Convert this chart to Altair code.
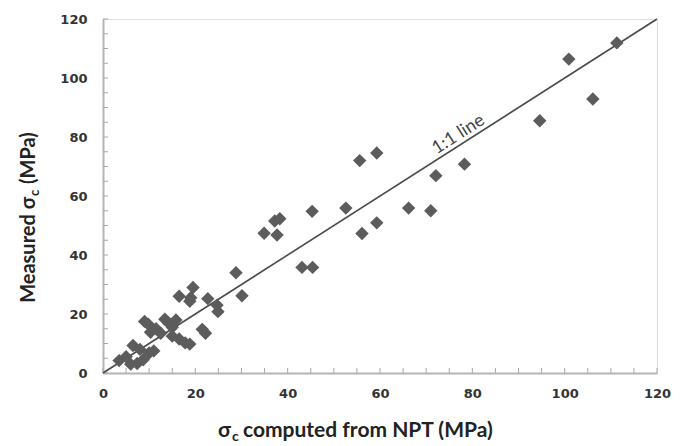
import altair as alt
import pandas as pd

# Data
npt = [3.5, 5.0, 6.0, 7.4, 8.7, 6.5, 8.0, 10.0, 11.0, 9.0, 9.8, 10.3, 11.5, 12.5,
       13.4, 14.2, 15.0, 15.8, 15.0, 16.5, 17.8, 18.8, 16.5, 19.0, 19.5, 18.8,
       21.5, 22.2, 22.7, 24.7, 24.9, 28.8, 30.1,
       34.9, 37.2, 38.3, 37.7, 43.1, 45.4, 45.3, 52.6, 55.6, 56.1, 59.3, 59.3,
       66.2, 71.0, 72.1, 78.3, 94.6, 100.9, 106.1, 111.3]
measured = [4.2, 5.5, 3.0, 3.2, 4.5, 9.3, 8.0, 6.8, 7.5, 17.5, 16.5, 13.8, 15.0, 13.5,
            18.2, 17.0, 15.5, 18.0, 12.5, 11.5, 10.2, 9.8, 26.0, 25.5, 29.0, 24.3,
            14.8, 13.5, 25.2, 23.0, 20.8, 34.0, 26.2,
            47.4, 51.5, 52.3, 46.8, 35.8, 35.8, 54.8, 55.9, 72.0, 47.3, 74.6, 50.9,
            55.9, 55.0, 66.9, 70.8, 85.5, 106.4, 92.9, 111.9]
line_x = [0, 120]
line_y = [0, 120]
label_text = ["1:1 line"]
label_x = [77.0]
label_y = [80.8]
major_ticks = [0, 20, 40, 60, 80, 100, 120]
minor_ticks = list(range(0, 121, 5))

W, H = 554, 354
DOM = [0, 120]

pts = pd.DataFrame({"x": npt, "y": measured})
ln = pd.DataFrame({"x": line_x, "y": line_y})
lab = pd.DataFrame({"x": label_x, "y": label_y, "t": label_text})
tk = pd.DataFrame({"v": minor_ticks})
one = pd.DataFrame({"a": [0]})

xs = alt.Scale(domain=DOM, nice=False)
ys = alt.Scale(domain=DOM, nice=False)

xaxis = alt.Axis(values=major_ticks, ticks=False, grid=False, title=None,
                 labelFont="DejaVu Sans", labelFontWeight="bold", labelFontSize=13,
                 labelColor="#333333", labelPadding=14, labelFlush=False,
                 domainColor="#b5b5b5", domainWidth=2)
yaxis = alt.Axis(values=major_ticks, ticks=False, grid=False, title=None,
                 labelFont="DejaVu Sans", labelFontWeight="bold", labelFontSize=13,
                 labelColor="#333333", labelPadding=16, labelFlush=False,
                 domainColor="#b5b5b5", domainWidth=2)

points = alt.Chart(pts).mark_point(shape="diamond", filled=True, size=180,
                                   color="#5c5c5c", opacity=1).encode(
    x=alt.X("x:Q", scale=xs, axis=xaxis),
    y=alt.Y("y:Q", scale=ys, axis=yaxis),
)

line = alt.Chart(ln).mark_line(color="#4a4a4a", strokeWidth=1.6).encode(
    x=alt.X("x:Q", scale=xs), y=alt.Y("y:Q", scale=ys))

label = alt.Chart(lab).mark_text(font="Lato", fontSize=18, color="#444444",
                                 angle=327.4, align="center", baseline="middle").encode(
    x=alt.X("x:Q", scale=xs), y=alt.Y("y:Q", scale=ys), text="t:N")

ytk = alt.Chart(tk).mark_rule(color="#a8a8a8", strokeWidth=1).encode(
    y=alt.Y("v:Q", scale=ys), x=alt.value(0), x2=alt.value(5))
xtk = alt.Chart(tk).mark_rule(color="#a8a8a8", strokeWidth=1).encode(
    x=alt.X("v:Q", scale=xs), y=alt.value(H), y2=alt.value(H - 5))

# Axis titles with subscript c
TF = "Lato"
TY = 412
xt1 = alt.Chart(one).mark_text(font=TF, fontSize=21, fontWeight="bold", color="#222222",
                               align="right", baseline="middle").encode(
    x=alt.value(128), y=alt.value(TY), text=alt.value("σ"))
xt2 = alt.Chart(one).mark_text(font=TF, fontSize=14, fontWeight="bold", color="#222222",
                               align="left", baseline="middle").encode(
    x=alt.value(129), y=alt.value(TY + 6), text=alt.value("c"))
xt3 = alt.Chart(one).mark_text(font=TF, fontSize=21, fontWeight="bold", color="#222222",
                               align="left", baseline="middle").encode(
    x=alt.value(140), y=alt.value(TY), text=alt.value("computed from NPT (MPa)"))

yt1 = alt.Chart(one).mark_text(font=TF, fontSize=20, fontWeight="bold", color="#222222",
                               align="right", baseline="middle", angle=270).encode(
    x=alt.value(-74), y=alt.value(178), text=alt.value("Measured  σ"))
yt2 = alt.Chart(one).mark_text(font=TF, fontSize=13, fontWeight="bold", color="#222222",
                               align="left", baseline="middle", angle=270).encode(
    x=alt.value(-68), y=alt.value(177), text=alt.value("c"))
yt3 = alt.Chart(one).mark_text(font=TF, fontSize=20, fontWeight="bold", color="#222222",
                               align="left", baseline="middle", angle=270).encode(
    x=alt.value(-74), y=alt.value(165), text=alt.value("(MPa)"))

chart = alt.layer(ytk, xtk, line, points, label, xt1, xt2, xt3, yt1, yt2, yt3).properties(
    width=W, height=H,
    autosize=alt.AutoSizeParams(type="none"),
    padding={"left": 95, "top": 11, "right": 20, "bottom": 72},
).configure_view(stroke="#333333", strokeWidth=2).configure(background="white")

chart.save("out.html", embed_options={"renderer": "svg", "actions": False})
